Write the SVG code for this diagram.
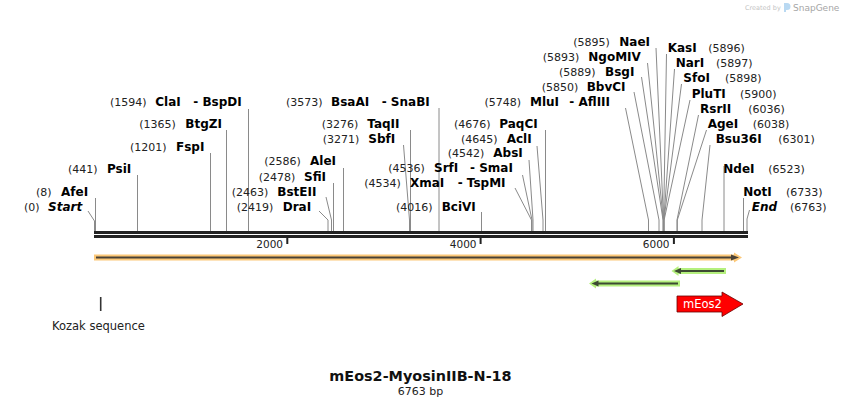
<svg xmlns="http://www.w3.org/2000/svg" width="842" height="407" viewBox="0 0 842 407">
<style>
.n{font-family:"DejaVu Sans",Verdana,sans-serif;font-size:11px;fill:#222}
.b{font-family:"DejaVu Sans",Verdana,sans-serif;font-size:12px;font-weight:bold;fill:#000}
.i{font-style:italic}
.t{font-family:"DejaVu Sans",Verdana,sans-serif;font-size:10.5px;fill:#222}
.c{stroke:#8a8a8a;stroke-width:1;fill:none}
</style>
<rect width="842" height="407" fill="#fff"/>
<g id="watermark">
<text x="745" y="10" font-family="DejaVu Sans,sans-serif" font-size="6.5" fill="#c4c4c4">Created by</text>
<path d="M784,3 h3 a3.5,3.5 0 0 1 0,7 h-1 v2 h-2 z" fill="#b9d9f2"/>
<text x="793" y="10.5" font-family="DejaVu Sans,sans-serif" font-size="9" fill="#a6a6a6">SnapGene</text>
</g>
<g id="backbone">
<rect x="94" y="231" width="654" height="3" fill="#222"/>
<rect x="94" y="235" width="654" height="3" fill="#222"/>
<rect x="286.3" y="238" width="2" height="6" fill="#222"/>
<rect x="479.6" y="238" width="2" height="6" fill="#222"/>
<rect x="672.9" y="238" width="2" height="6" fill="#222"/>
<text class="t" x="283" y="247.5" text-anchor="end">2000</text>
<text class="t" x="476.5" y="247.5" text-anchor="end">4000</text>
<text class="t" x="669.5" y="247.5" text-anchor="end">6000</text>
</g>
<g id="connectors">
<path class="c" d="M88,211 L94.5,221 V231"/>
<path class="c" d="M95.5,198 V231"/>
<path class="c" d="M137.5,175 V231"/>
<path class="c" d="M210.5,153 V231"/>
<path class="c" d="M226.5,130 V231"/>
<path class="c" d="M248.5,109 V231"/>
<path class="c" d="M319,211 L328,220 V231"/>
<path class="c" d="M326,197 L331.5,220 V231"/>
<path class="c" d="M333.5,183 V231"/>
<path class="c" d="M343.5,168 V231"/>
<path class="c" d="M403.5,145 L409.5,220 V231"/>
<path class="c" d="M410.5,130 V231"/>
<path class="c" d="M439,108 V231"/>
<path class="c" d="M481.5,212 V231"/>
<path class="c" d="M515,188 L531.5,220 V231"/>
<path class="c" d="M522.5,175 L532,220 V231"/>
<path class="c" d="M529,160 L533,220 V231"/>
<path class="c" d="M537,146 L543,220 V231"/>
<path class="c" d="M545.5,130 V231"/>
<path class="c" d="M625.5,108 L648.5,220 V231"/>
<path class="c" d="M634,92 L659,220 V231"/>
<path class="c" d="M641.5,77 L663,220 V231"/>
<path class="c" d="M647.5,63 L663.3,220 V231"/>
<path class="c" d="M656,48 L663.5,220 V231"/>
<path class="c" d="M666.5,54 L663.6,220 V231"/>
<path class="c" d="M674.5,69 L663.8,220 V231"/>
<path class="c" d="M681.5,84 L663.9,220 V231"/>
<path class="c" d="M690,100 L664.1,220 V231"/>
<path class="c" d="M698.5,115 L677,220 V231"/>
<path class="c" d="M706.5,130 L677.3,220 V231"/>
<path class="c" d="M710,145 L702,220 V231"/>
<path class="c" d="M724,166 V231"/>
<path class="c" d="M743.5,198 V231"/>
<path class="c" d="M749.5,210 L747,219 V231"/>
</g>
<g id="site-start"><text class="n" x="24" y="210.5">(0)</text><text class="b i" x="48" y="210.5">Start</text></g>
<g id="site-AfeI"><text class="n" x="36" y="196">(8)</text><text class="b" x="61" y="196">AfeI</text></g>
<g id="site-PsiI"><text class="n" x="68" y="173.3">(441)</text><text class="b" x="107" y="173.3">PsiI</text></g>
<g id="site-FspI"><text class="n" x="130" y="151">(1201)</text><text class="b" x="176" y="151">FspI</text></g>
<g id="site-BtgZI"><text class="n" x="139.3" y="128.3">(1365)</text><text class="b" x="185.3" y="128.3">BtgZI</text></g>
<g id="site-ClaI"><text class="n" x="110" y="106">(1594)</text><text class="b" y="106"><tspan x="155.3">ClaI</tspan><tspan x="193.3">- BspDI</tspan></text></g>
<g id="site-DraI"><text class="n" x="236.7" y="210.5">(2419)</text><text class="b" x="282.7" y="210.5">DraI</text></g>
<g id="site-BstEII"><text class="n" x="231.7" y="196">(2463)</text><text class="b" x="277.3" y="196">BstEII</text></g>
<g id="site-SfiI"><text class="n" x="258.7" y="180.5">(2478)</text><text class="b" x="304" y="180.5">SfiI</text></g>
<g id="site-AleI"><text class="n" x="264.3" y="165">(2586)</text><text class="b" x="310" y="165">AleI</text></g>
<g id="site-SbfI"><text class="n" x="322.7" y="142.7">(3271)</text><text class="b" x="368.3" y="142.7">SbfI</text></g>
<g id="site-TaqII"><text class="n" x="321.7" y="127.7">(3276)</text><text class="b" x="367.3" y="127.7">TaqII</text></g>
<g id="site-BsaAI"><text class="n" x="286" y="106">(3573)</text><text class="b" y="106"><tspan x="331">BsaAI</tspan><tspan x="381.7">- SnaBI</tspan></text></g>
<g id="site-BciVI"><text class="n" x="396" y="210.5">(4016)</text><text class="b" x="441.7" y="210.5">BciVI</text></g>
<g id="site-XmaI"><text class="n" x="364.3" y="187.3">(4534)</text><text class="b" y="187.3"><tspan x="410">XmaI</tspan><tspan x="457.7">- TspMI</tspan></text></g>
<g id="site-SrfI"><text class="n" x="388.3" y="172.3">(4536)</text><text class="b" y="172.3"><tspan x="434">SrfI</tspan><tspan x="470">- SmaI</tspan></text></g>
<g id="site-AbsI"><text class="n" x="447.7" y="157">(4542)</text><text class="b" x="493.3" y="157">AbsI</text></g>
<g id="site-AclI"><text class="n" x="461" y="142.7">(4645)</text><text class="b" x="506.7" y="142.7">AclI</text></g>
<g id="site-PaqCI"><text class="n" x="454" y="127.7">(4676)</text><text class="b" x="499.3" y="127.7">PaqCI</text></g>
<g id="site-MluI"><text class="n" x="484.5" y="106">(5748)</text><text class="b" y="106"><tspan x="530">MluI</tspan><tspan x="569.3">- AflIII</tspan></text></g>
<g id="site-BbvCI"><text class="n" x="541.7" y="90.7">(5850)</text><text class="b" x="586.7" y="90.7">BbvCI</text></g>
<g id="site-BsgI"><text class="n" x="559" y="75.7">(5889)</text><text class="b" x="605" y="75.7">BsgI</text></g>
<g id="site-NgoMIV"><text class="n" x="542.7" y="60.7">(5893)</text><text class="b" x="588.3" y="60.7">NgoMIV</text></g>
<g id="site-NaeI"><text class="n" x="573.3" y="45.7">(5895)</text><text class="b" x="619.3" y="45.7">NaeI</text></g>
<g id="site-KasI"><text class="b" x="667.7" y="52.3">KasI</text><text class="n" x="708.3" y="52.3">(5896)</text></g>
<g id="site-NarI"><text class="b" x="675.7" y="67.3">NarI</text><text class="n" x="716" y="67.3">(5897)</text></g>
<g id="site-SfoI"><text class="b" x="683.3" y="82.3">SfoI</text><text class="n" x="725" y="82.3">(5898)</text></g>
<g id="site-PluTI"><text class="b" x="691.7" y="97.7">PluTI</text><text class="n" x="740" y="97.7">(5900)</text></g>
<g id="site-RsrII"><text class="b" x="700" y="112.7">RsrII</text><text class="n" x="748.3" y="112.7">(6036)</text></g>
<g id="site-AgeI"><text class="b" x="707.7" y="127.7">AgeI</text><text class="n" x="752.7" y="127.7">(6038)</text></g>
<g id="site-Bsu36I"><text class="b" x="715.7" y="142.5">Bsu36I</text><text class="n" x="778.3" y="142.5">(6301)</text></g>
<g id="site-NdeI"><text class="b" x="723.3" y="172.5">NdeI</text><text class="n" x="768.3" y="172.5">(6523)</text></g>
<g id="site-NotI"><text class="b" x="743.3" y="196">NotI</text><text class="n" x="786" y="196">(6733)</text></g>
<g id="site-end"><text class="b i" x="751.7" y="210.5">End</text><text class="n" x="790" y="210.5">(6763)</text></g>
<g id="feature-orange">
<path d="M94,254.5 H734 V252.5 L742,257.5 L734,262.5 V260.5 H94 Z" fill="#fcc878"/>
<path d="M96,257.5 H733" stroke="#4a4236" stroke-width="2.2"/>
<path d="M731,254.5 L739,257.5 L731,260.5 Z" fill="#4a4236"/>
</g>
<g id="feature-green1">
<path d="M726,268 H678.5 V266 L671.5,271 L678.5,276 V274 H726 Z" fill="#b5f07e"/>
<path d="M724,271 H678" stroke="#3c4a32" stroke-width="2.2"/>
<path d="M681,268 L674,271 L681,274 Z" fill="#3c4a32"/>
</g>
<g id="feature-green2">
<path d="M680,280.5 H596 V278.5 L589,283.5 L596,288.5 V286.5 H680 Z" fill="#b5f07e"/>
<path d="M678,283.5 H596" stroke="#3c4a32" stroke-width="2.2"/>
<path d="M598.5,280.5 L591.5,283.5 L598.5,286.5 Z" fill="#3c4a32"/>
</g>
<g id="feature-mEos2">
<path d="M677,296 H722 V292 L743,304 L722,316.5 V312 H677 Z" fill="#ff0000" stroke="#6a0000" stroke-width="0.8"/>
<text x="683" y="308" font-family="DejaVu Sans,Verdana,sans-serif" font-size="11.5" fill="#fff">mEos2</text>
</g>
<g id="feature-kozak">
<path d="M100.7,297 V311" stroke="#333" stroke-width="1.6"/>
<text x="52" y="330" font-family="DejaVu Sans,Verdana,sans-serif" font-size="11.5" fill="#222">Kozak sequence</text>
</g>
<g id="title">
<text x="420.5" y="380.7" text-anchor="middle" font-family="DejaVu Sans,Verdana,sans-serif" font-size="14.4" font-weight="bold" fill="#111">mEos2-MyosinIIB-N-18</text>
<text x="420.5" y="395" text-anchor="middle" font-family="DejaVu Sans,Verdana,sans-serif" font-size="11" fill="#222">6763 bp</text>
</g>
</svg>
